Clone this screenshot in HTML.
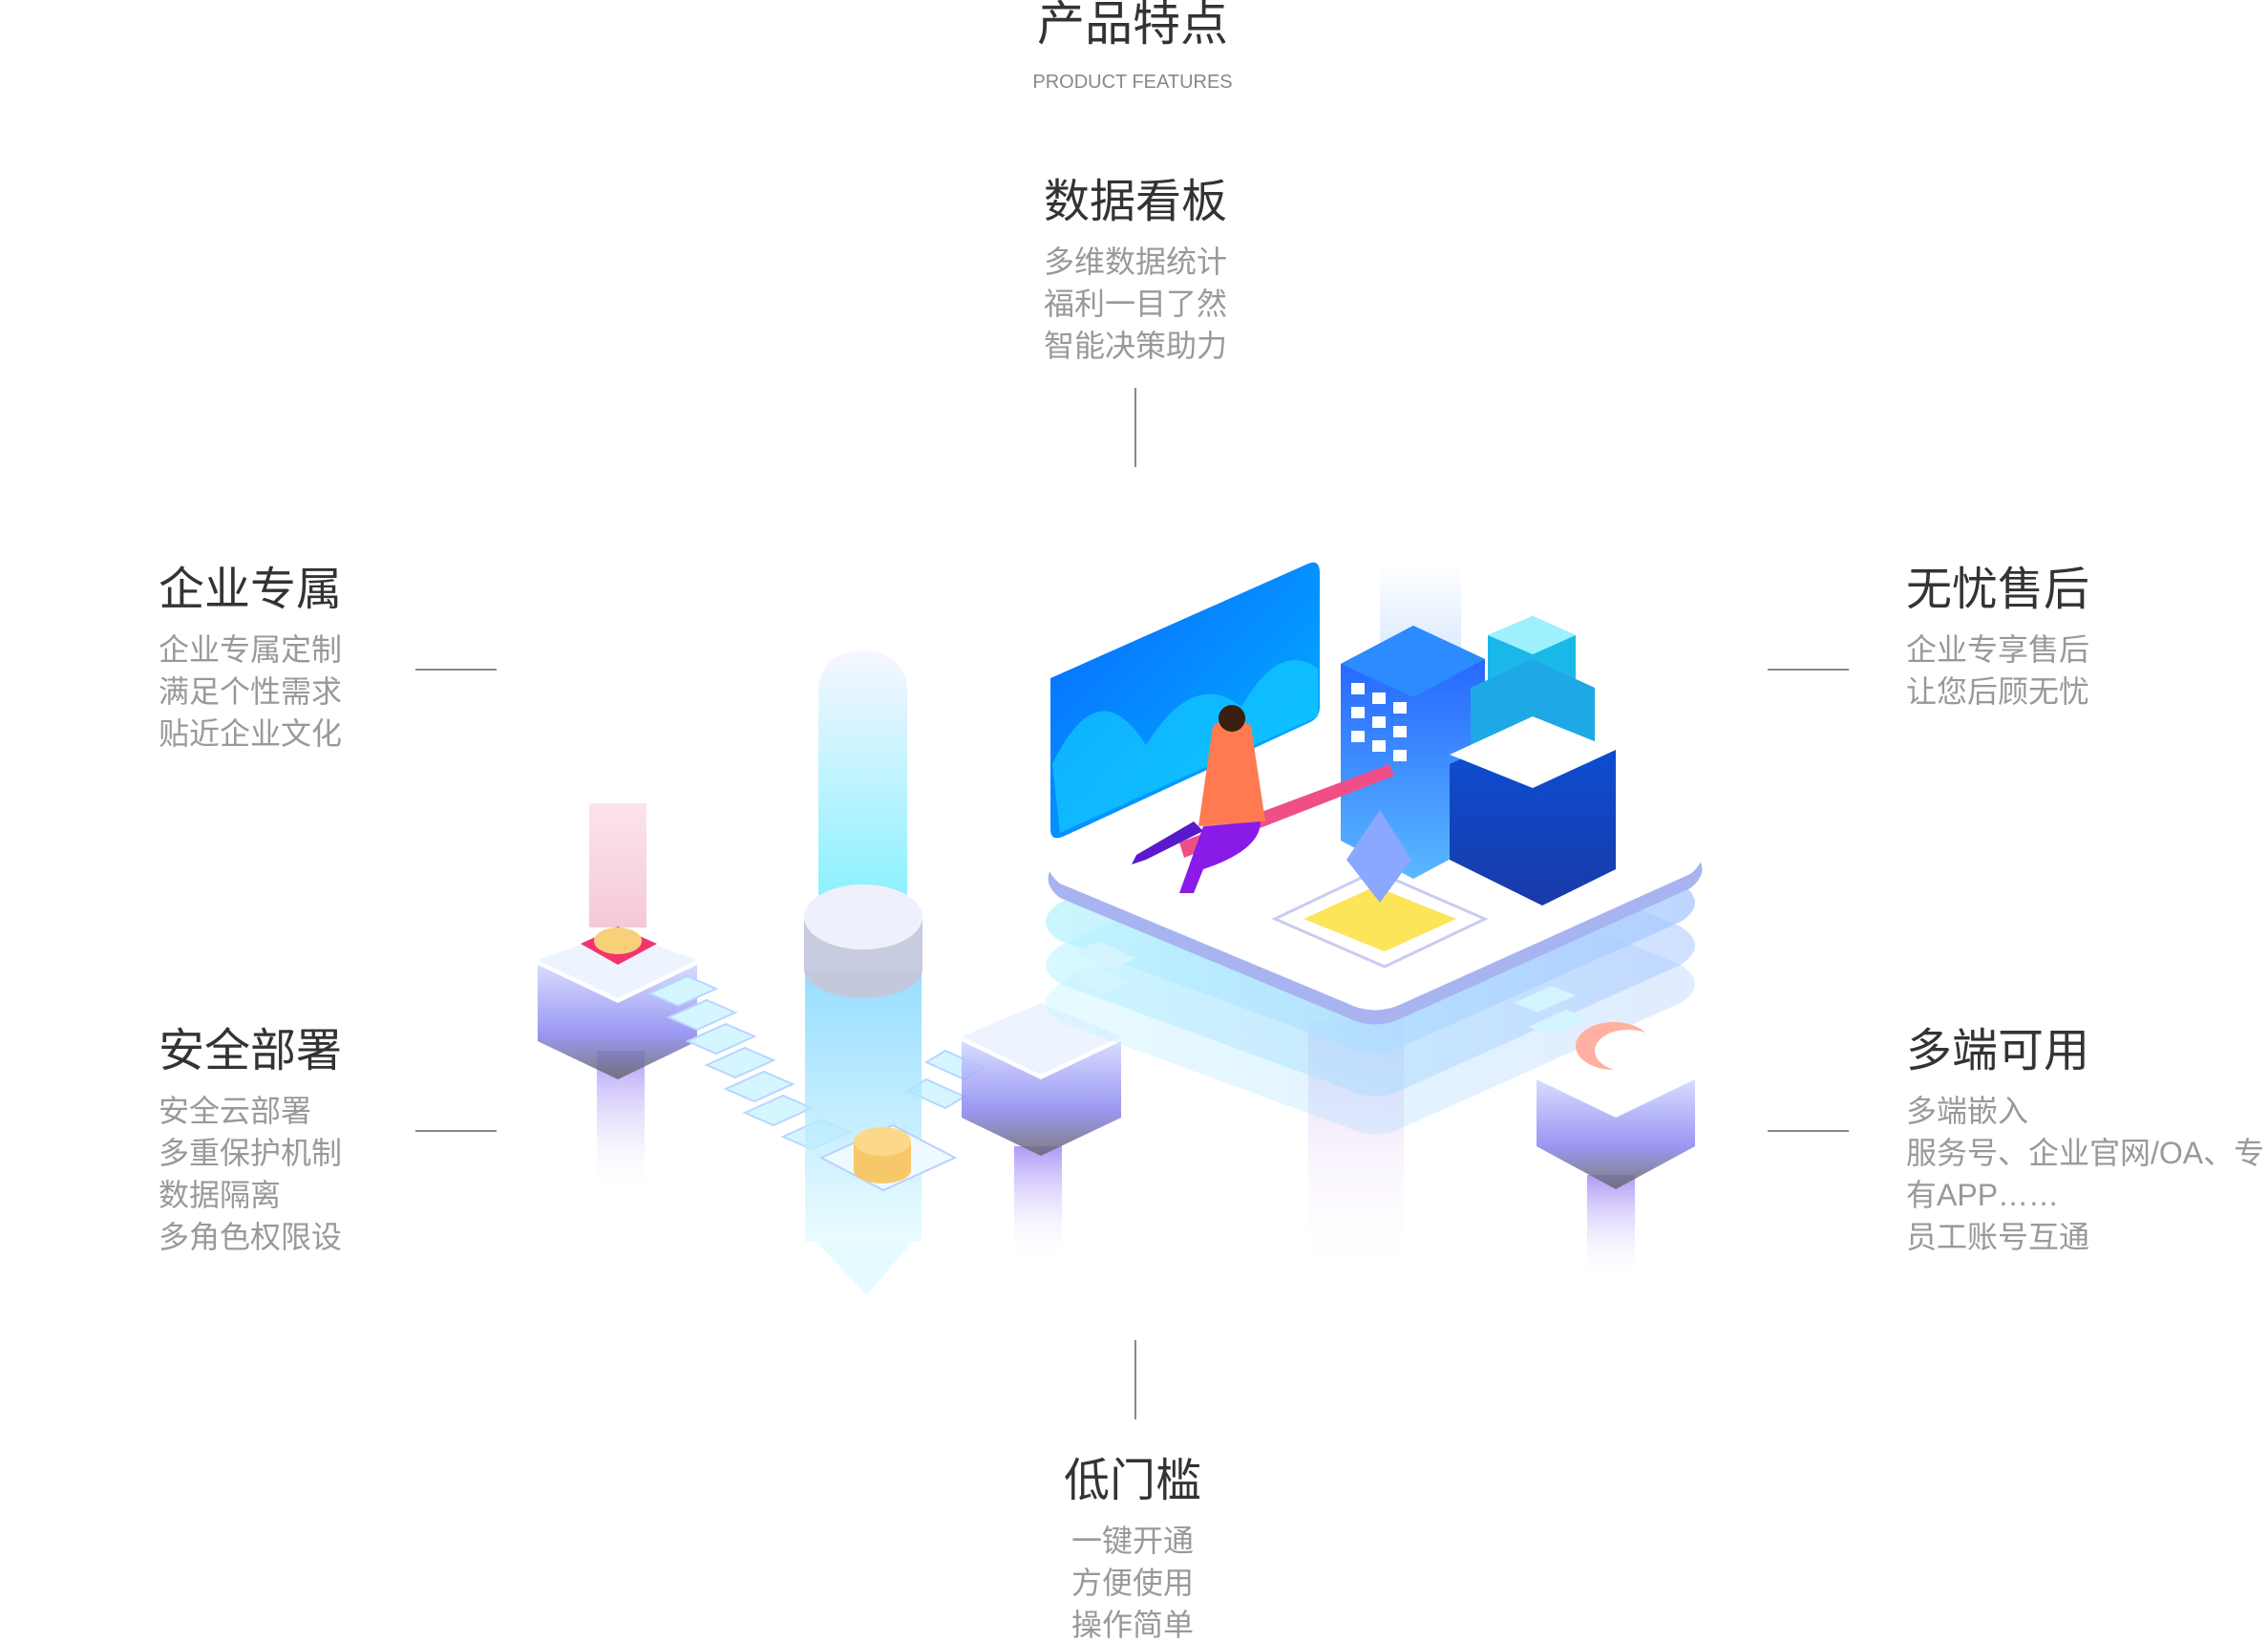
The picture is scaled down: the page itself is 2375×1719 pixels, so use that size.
<!DOCTYPE html>
<html><head><meta charset="utf-8">
<style>
html,body{margin:0;padding:0;background:#fff;}
body{width:2375px;height:1716px;position:relative;overflow:hidden;font-family:"Liberation Sans","Noto Sans CJK SC",sans-serif;}
.t{position:absolute;white-space:nowrap;line-height:1;}
.h{font-size:48px;color:#333;}
.s{font-size:32px;color:#999;}
.c{transform:translateX(-50%);text-align:center;}
.ln{position:absolute;background:#888;}
svg{position:absolute;left:0;top:0;}
</style></head><body>
<svg width="2375" height="1716" viewBox="0 0 2375 1716">
<defs>
<linearGradient id="cy" x1="0" y1="0" x2="0" y2="1"><stop offset="0" stop-color="#f6f6ff"/><stop offset="1" stop-color="#7ff0ff"/></linearGradient>
<linearGradient id="cy2" x1="0" y1="0" x2="0" y2="1"><stop offset="0" stop-color="#6ccfff"/><stop offset="1" stop-color="#e6fbff"/></linearGradient>
<linearGradient id="pk" x1="0" y1="0" x2="0" y2="1"><stop offset="0" stop-color="#fbe4ee"/><stop offset="1" stop-color="#f5c8d8"/></linearGradient>
<linearGradient id="pu" x1="0" y1="0" x2="0" y2="1"><stop offset="0" stop-color="#9a80f5"/><stop offset="1" stop-color="#fff" stop-opacity="0"/></linearGradient>
<linearGradient id="pk2" x1="0" y1="0" x2="0" y2="1"><stop offset="0" stop-color="#d8b8f0"/><stop offset="1" stop-color="#fff" stop-opacity="0"/></linearGradient>
<linearGradient id="blk" x1="0" y1="0" x2="0" y2="1"><stop offset="0" stop-color="#d0d6ff"/><stop offset=".6" stop-color="#8a86f0"/><stop offset="1" stop-color="#666"/></linearGradient>
<linearGradient id="scr" x1="0" y1="0" x2="1" y2="1"><stop offset="0" stop-color="#0a66ff"/><stop offset="1" stop-color="#00b8ff"/></linearGradient>
<linearGradient id="bd" x1="0" y1="0" x2="0" y2="1"><stop offset="0" stop-color="#1e5bff"/><stop offset="1" stop-color="#5ab8ff"/></linearGradient>
<linearGradient id="bd2" x1="0" y1="0" x2="0" y2="1"><stop offset="0" stop-color="#0a50d8"/><stop offset="1" stop-color="#1a3aa8"/></linearGradient>
<linearGradient id="lay" x1="0" y1="0" x2="1" y2="0"><stop offset="0" stop-color="#b8f4ff"/><stop offset="1" stop-color="#a8c8ff"/></linearGradient>
<linearGradient id="beam" x1="0" y1="0" x2="0" y2="1"><stop offset="0" stop-color="#fff"/><stop offset="1" stop-color="#cfe4ff"/></linearGradient>
</defs>
<rect x="625" y="1100" width="50" height="150" fill="url(#pu)" opacity=".8"/>
<polygon points="563,1010 647,1050 730,1010 730,1090 647,1130 563,1090" fill="url(#blk)" opacity=".85"/>
<polygon points="563,1005 647,1045 730,1005 647,975" fill="#eef4ff"/>
<rect x="617" y="841" width="60" height="130" fill="url(#pk)"/>
<polygon points="608,988 647,970 688,988 647,1010" fill="#f0356e"/>
<ellipse cx="647" cy="985" rx="25" ry="14" fill="#f8d07a"/>
<g fill="#d6f6ff" stroke="#b6d6ff" stroke-width="2">
<polygon points="680,1040 720,1022 750,1035 710,1053"/>
<polygon points="700,1065 740,1047 770,1060 730,1078"/>
<polygon points="720,1090 760,1072 790,1085 750,1103"/>
<polygon points="740,1115 780,1097 810,1110 770,1128"/>
<polygon points="760,1140 800,1122 830,1135 790,1153"/>
<polygon points="780,1165 820,1147 850,1160 810,1178"/>
<polygon points="820,1190 860,1172 890,1185 850,1203"/>
<polygon points="970,1130 1010,1148 990,1160 950,1142"/>
<polygon points="990,1100 1030,1118 1010,1130 970,1112"/>
</g>
<rect x="857" y="682" width="93" height="290" rx="40" fill="url(#cy)"/>
<rect x="843" y="970" width="122" height="330" fill="url(#cy2)" opacity=".8"/>
<polygon points="855,1300 908,1356 955,1300" fill="#e6fbff"/>
<ellipse cx="904" cy="1015" rx="62" ry="30" fill="#c4c8dc"/>
<rect x="842" y="960" width="124" height="55" fill="#c8cce0"/>
<ellipse cx="904" cy="960" rx="62" ry="34" fill="#eef1fb"/>
<polygon points="860,1212 935,1178 1000,1212 925,1246" fill="#eefaff" stroke="#b8d0ff" stroke-width="2"/>
<ellipse cx="924" cy="1225" rx="30" ry="14" fill="#f7c86a"/>
<rect x="894" y="1195" width="60" height="30" fill="#f7c86a"/>
<ellipse cx="924" cy="1195" rx="30" ry="15" fill="#fbd88a"/>
<rect x="1062" y="1200" width="50" height="120" fill="url(#pu)" opacity=".8"/>
<polygon points="1007,1090 1090,1130 1174,1090 1174,1170 1090,1210 1007,1170" fill="url(#blk)" opacity=".85"/>
<polygon points="1007,1085 1090,1125 1174,1085 1090,1050" fill="#eef4ff"/>
<rect x="1370" y="1070" width="100" height="270" fill="url(#pk2)" opacity=".7"/>
<path d="M1110,1070 Q1080,1050 1110,1030 L1410,890 Q1440,880 1470,890 L1760,1010 Q1790,1030 1760,1050 L1470,1180 Q1440,1195 1410,1180 Z" fill="url(#lay)" opacity=".35"/>
<path d="M1110,1030 Q1080,1010 1110,990 L1410,850 Q1440,840 1470,850 L1760,970 Q1790,990 1760,1010 L1470,1140 Q1440,1155 1410,1140 Z" fill="url(#lay)" opacity=".55"/>
<path d="M1110,985 Q1080,965 1110,945 L1410,805 Q1440,795 1470,805 L1760,925 Q1790,945 1760,965 L1470,1095 Q1440,1110 1410,1095 Z" fill="url(#lay)" opacity=".75"/>
<path d="M1110,940 Q1085,920 1110,900 L1410,760 Q1440,750 1470,760 L1770,890 Q1795,910 1770,930 L1470,1065 Q1440,1080 1410,1065 Z" fill="#a8b4f0"/>
<path d="M1110,925 Q1085,905 1110,885 L1410,745 Q1440,735 1470,745 L1770,875 Q1795,895 1770,915 L1470,1050 Q1440,1065 1410,1050 Z" fill="#fff"/>
<path d="M1100,710 L1370,590 Q1382,585 1382,600 L1382,740 Q1382,752 1370,757 L1115,875 Q1100,882 1100,868 Z" fill="url(#scr)"/>
<path d="M1102,800 Q1150,700 1200,780 Q1250,700 1300,740 Q1340,670 1380,700 L1380,750 L1110,872 Z" fill="#15d4ff" opacity=".6"/>
<rect x="1445" y="590" width="85" height="100" fill="url(#beam)" opacity=".8"/>
<polygon points="1404,695 1480,655 1555,690 1555,880 1480,920 1404,880" fill="url(#bd)"/>
<polygon points="1404,695 1480,655 1555,690 1480,730" fill="#2b8bff"/>
<g fill="#fff"><rect x="1415" y="715" width="14" height="12"/><rect x="1437" y="725" width="14" height="12"/><rect x="1459" y="735" width="14" height="12"/><rect x="1415" y="740" width="14" height="12"/><rect x="1437" y="750" width="14" height="12"/><rect x="1459" y="760" width="14" height="12"/><rect x="1415" y="765" width="14" height="12"/><rect x="1437" y="775" width="14" height="12"/><rect x="1459" y="785" width="14" height="12"/></g>
<polygon points="1558,665 1605,645 1650,665 1650,715 1605,735 1558,715" fill="#1ab8e8"/>
<polygon points="1558,665 1605,645 1650,665 1605,685" fill="#9ef0ff"/>
<polygon points="1540,720 1605,690 1670,720 1670,790 1605,820 1540,790" fill="#1ea8e6"/>
<polygon points="1518,800 1605,760 1692,785 1692,910 1615,948 1518,900" fill="url(#bd2)"/>
<polygon points="1518,790 1605,750 1692,785 1605,825" fill="#fff"/>
<polygon points="1235,882 1455,800 1460,812 1240,898" fill="#ef4f86"/>
<path d="M1270,760 Q1290,745 1310,760 L1325,860 L1255,865 Z" fill="#ff7a50"/>
<circle cx="1290" cy="752" r="14" fill="#3a1e10"/>
<path d="M1260,865 L1320,860 Q1320,890 1260,910 L1250,935 L1235,935 Z" fill="#8a1ae8"/>
<path d="M1260,870 L1200,900 L1185,905 L1190,895 L1250,860 Z" fill="#5a1acc"/>
<polygon points="1335,962 1440,912 1555,962 1450,1012" fill="#fff" stroke="#c8ccee" stroke-width="3"/>
<polygon points="1365,962 1440,928 1525,962 1450,996" fill="#fde55a"/>
<polygon points="1445,848 1478,900 1445,945 1410,900" fill="#8aa8ff"/>
<rect x="1662" y="1230" width="50" height="110" fill="url(#pu)" opacity=".8"/>
<polygon points="1609,1130 1692,1170 1775,1130 1775,1200 1692,1245 1609,1200" fill="url(#blk)" opacity=".85"/>
<polygon points="1609,1125 1692,1165 1775,1125 1692,1090" fill="#fff"/>
<ellipse cx="1690" cy="1095" rx="40" ry="25" fill="#ffb0a0"/>
<ellipse cx="1705" cy="1100" rx="35" ry="22" fill="#fff"/>
<g fill="#d4f4ff"><polygon points="1585,1050 1625,1032 1650,1042 1610,1060"/><polygon points="1600,1075 1640,1057 1665,1067 1625,1085"/><polygon points="1150,985 1190,1003 1165,1015 1125,997"/><polygon points="1140,1010 1180,1028 1155,1040 1115,1022"/></g>
</svg>

<div class="t c" style="left:1186px;top:0px;font-size:50px;color:#333;">产品特点</div>
<div class="t c" style="left:1186px;top:76px;font-size:20px;color:#888;">PRODUCT FEATURES</div>

<div class="t c h" style="left:1189px;top:188px;">数据看板</div>
<div class="t c s" style="left:1189px;top:258px;">多维数据统计</div>
<div class="t c s" style="left:1189px;top:302px;">福利一目了然</div>
<div class="t c s" style="left:1189px;top:346px;">智能决策助力</div>
<div class="ln" style="left:1188px;top:406px;width:2px;height:83px;"></div>

<div class="t h" style="left:166px;top:594px;">企业专属</div>
<div class="t s" style="left:166px;top:664px;">企业专属定制</div>
<div class="t s" style="left:166px;top:708px;">满足个性需求</div>
<div class="t s" style="left:166px;top:752px;">贴近企业文化</div>
<div class="ln" style="left:435px;top:700px;width:85px;height:2px;"></div>

<div class="t h" style="left:166px;top:1077px;">安全部署</div>
<div class="t s" style="left:166px;top:1147px;">安全云部署</div>
<div class="t s" style="left:166px;top:1191px;">多重保护机制</div>
<div class="t s" style="left:166px;top:1235px;">数据隔离</div>
<div class="t s" style="left:166px;top:1279px;">多角色权限设</div>
<div class="ln" style="left:435px;top:1183px;width:85px;height:2px;"></div>

<div class="t h" style="left:1996px;top:594px;">无忧售后</div>
<div class="t s" style="left:1996px;top:664px;">企业专享售后</div>
<div class="t s" style="left:1996px;top:708px;">让您后顾无忧</div>
<div class="ln" style="left:1851px;top:700px;width:85px;height:2px;"></div>

<div class="t h" style="left:1996px;top:1077px;">多端可用</div>
<div class="t s" style="left:1996px;top:1147px;">多端嵌入</div>
<div class="t s" style="left:1996px;top:1191px;">服务号、企业官网/OA、专</div>
<div class="t s" style="left:1996px;top:1235px;">有APP……</div>
<div class="t s" style="left:1996px;top:1279px;">员工账号互通</div>
<div class="ln" style="left:1851px;top:1183px;width:85px;height:2px;"></div>

<div class="ln" style="left:1188px;top:1403px;width:2px;height:83px;"></div>
<div class="t c h" style="left:1186px;top:1527px;">低门槛</div>
<div class="t c s" style="left:1186px;top:1597px;">一键开通</div>
<div class="t c s" style="left:1186px;top:1641px;">方便使用</div>
<div class="t c s" style="left:1186px;top:1685px;">操作简单</div>
</body></html>
